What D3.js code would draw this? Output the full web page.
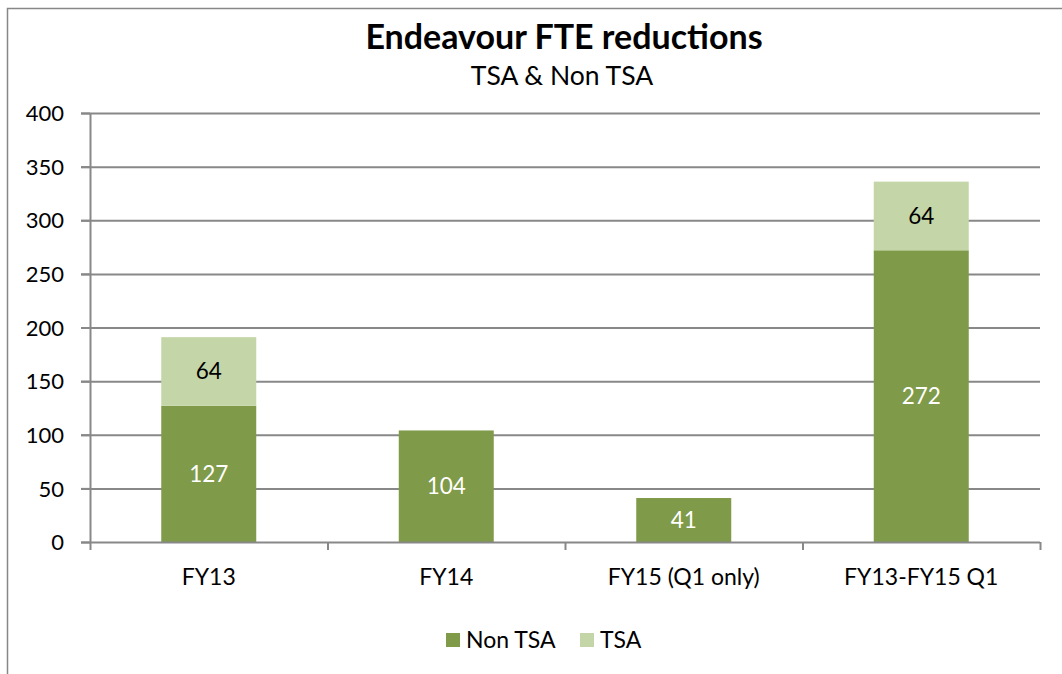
<!DOCTYPE html>
<html><head><meta charset="utf-8">
<script src="https://cdn.jsdelivr.net/npm/d3@7"></script>
<style>body{margin:0;background:#fff}svg{display:block}text{font-family:Lato,"Open Sans",sans-serif}</style>
</head><body><svg id="c" width="1062" height="674"></svg>
<script>
const categories = ["FY13","FY14","FY15 (Q1 only)","FY13-FY15 Q1"];
const nonTSA = [127,104,41,272];
const tsa = [64,0,0,64];
const yTicks = [0,50,100,150,200,250,300,350,400];
const seriesNames = ["Non TSA","TSA"];
const colors = ["#7F9A48","#C4D6A8"];

const svg = d3.select("#c");
svg.append("rect").attr("x",7.5).attr("y",8.5).attr("width",1070).attr("height",700)
  .attr("fill","#fff").attr("stroke","#878787").attr("stroke-width",1.5);

const L=90,R=1040,T=113,B=542;
const x = d3.scaleBand().domain(categories).range([L,R]).paddingInner(0.6).paddingOuter(0.3);
const y = d3.scaleLinear().domain([0,400]).range([B,T]);

svg.append("g").selectAll("line").data(yTicks.filter(d=>d>0)).join("line")
  .attr("x1",L-9).attr("x2",R).attr("y1",d=>y(d)+0.5).attr("y2",d=>y(d)+0.5)
  .attr("stroke","#888").attr("stroke-width",2);

const rows = categories.map((c,i)=>({cat:c,"Non TSA":nonTSA[i],"TSA":tsa[i]}));
const stack = d3.stack().keys(seriesNames)(rows);
svg.append("g").selectAll("g").data(stack).join("g").attr("fill",(d,i)=>colors[i])
  .selectAll("rect").data(d=>d).join("rect")
  .attr("x",d=>x(d.data.cat)).attr("width",x.bandwidth())
  .attr("y",d=>y(d[1])).attr("height",d=>y(d[0])-y(d[1]));

stack.forEach((s,si)=>{
  svg.append("g").selectAll("text").data(s.filter(d=>d[1]-d[0]>0)).join("text")
    .attr("x",d=>x(d.data.cat)+x.bandwidth()/2).attr("y",d=>y((d[0]+d[1])/2)+8)
    .attr("text-anchor","middle").attr("font-size",22.5)
    .attr("fill",si===0?"#fff":"#000").text(d=>d[1]-d[0]);
});

const ya = svg.append("g").attr("transform",`translate(${L},0)`)
  .call(d3.axisLeft(y).tickValues(yTicks).tickSize(9).tickPadding(17));
ya.select(".domain").attr("stroke","#888").attr("stroke-width",2).attr("d",`M0.5,${T}V${B}`);
ya.selectAll(".tick line").attr("stroke","#888").attr("stroke-width",2);
ya.selectAll(".tick text").attr("font-size",22).attr("fill","#000").attr("dy","0.35em");

const xa = svg.append("g").attr("transform",`translate(0,${B})`);
xa.append("line").attr("x1",L-9).attr("x2",R).attr("y1",0.5).attr("y2",0.5).attr("stroke","#888").attr("stroke-width",2);
const step = (R-L)/categories.length;
xa.selectAll("line.t").data(d3.range(categories.length+1)).join("line").attr("class","t")
  .attr("x1",i=>L+0.5+i*step).attr("x2",i=>L+0.5+i*step).attr("y1",0).attr("y2",8)
  .attr("stroke","#888").attr("stroke-width",2);
xa.selectAll("text").data(categories).join("text")
  .attr("x",d=>x(d)+x.bandwidth()/2).attr("y",43).attr("text-anchor","middle")
  .attr("font-size",23).attr("fill","#000").text(d=>d);

svg.append("text").attr("x",564).attr("y",49).attr("text-anchor","middle")
  .attr("font-size",34).attr("font-weight","bold").text("Endeavour FTE reductions");
svg.append("text").attr("x",562).attr("y",85).attr("text-anchor","middle")
  .attr("font-size",26.5).text("TSA & Non TSA");

const leg = svg.append("g");
const lx=[446,580];
seriesNames.forEach((n,i)=>{
  leg.append("rect").attr("x",lx[i]).attr("y",633).attr("width",14).attr("height",14).attr("fill",colors[i]);
  leg.append("text").attr("x",lx[i]+20).attr("y",648).attr("font-size",23).text(n);
});
</script></body></html>
